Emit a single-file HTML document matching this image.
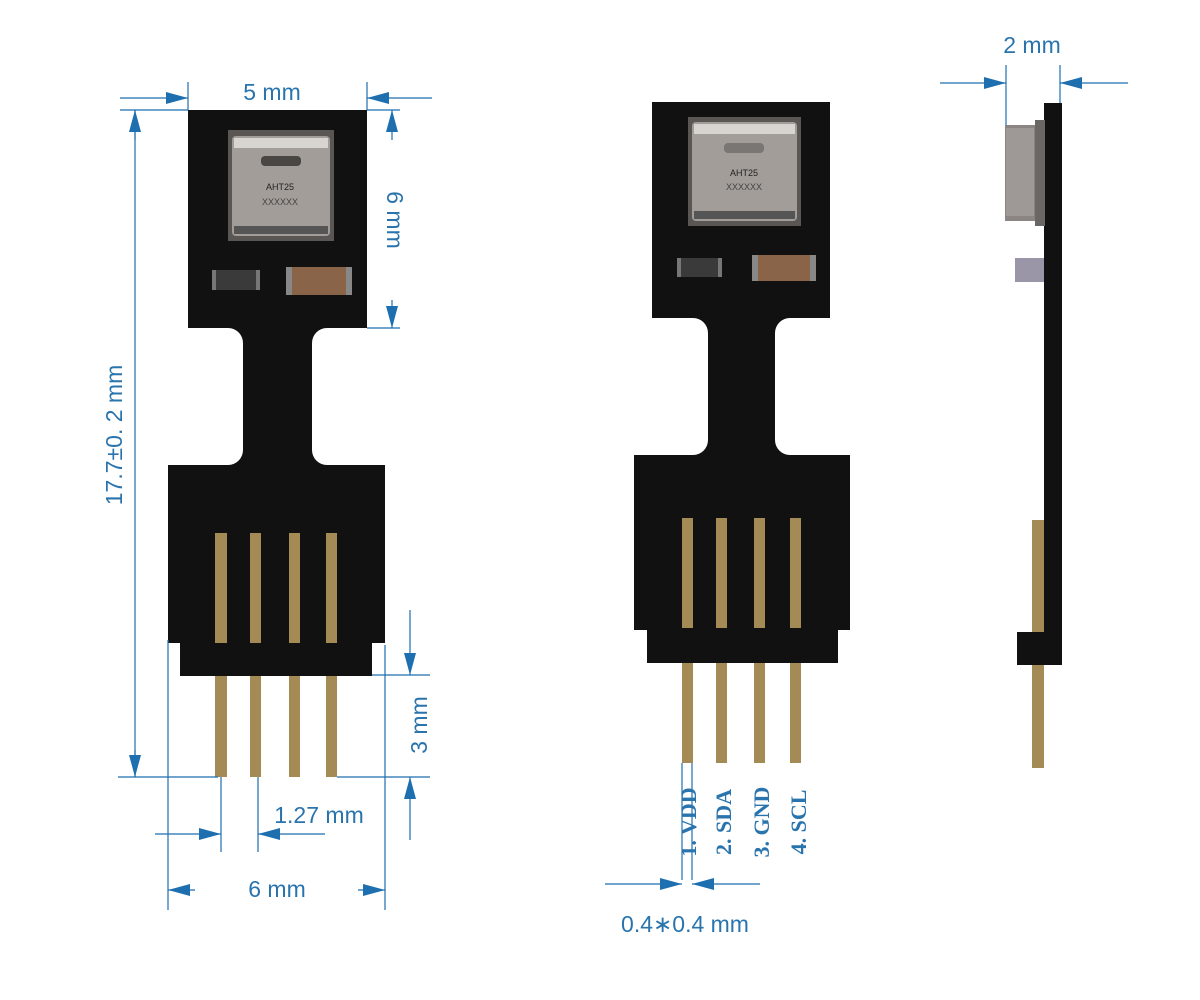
<!DOCTYPE html>
<html><head><meta charset="utf-8"><style>html,body{margin:0;padding:0;background:#fff}svg{display:block}</style></head>
<body>
<svg width="1200" height="1000" viewBox="0 0 1200 1000" xmlns="http://www.w3.org/2000/svg">
<defs>
<marker id="b" markerWidth="22" markerHeight="12" refX="22" refY="6" orient="auto" markerUnits="userSpaceOnUse"><path d="M0,0 L22,6 L0,12 Z" fill="#1e6fb0"/></marker>
</defs>
<g fill="#111">
<!-- left board -->
<rect x="188" y="110" width="179" height="218"/>
<rect x="243" y="320" width="69" height="150"/>
<rect x="168" y="465" width="217" height="178"/>
<rect x="180" y="640" width="192" height="36"/>
<path d="M243,343 L243,328 L228,328 A15,15 0 0 1 243,343 Z"/>
<path d="M243,450 L243,465 L228,465 A15,15 0 0 0 243,450 Z"/>
<path d="M312,343 L312,328 L327,328 A15,15 0 0 0 312,343 Z"/>
<path d="M312,450 L312,465 L327,465 A15,15 0 0 1 312,450 Z"/>
<!-- middle board -->
<rect x="652" y="102" width="178" height="216"/>
<rect x="708" y="310" width="67" height="150"/>
<rect x="634" y="455" width="216" height="175"/>
<rect x="647" y="626" width="191" height="37"/>
<path d="M708,333 L708,318 L693,318 A15,15 0 0 1 708,333 Z"/>
<path d="M708,440 L708,455 L693,455 A15,15 0 0 0 708,440 Z"/>
<path d="M775,333 L775,318 L790,318 A15,15 0 0 0 775,333 Z"/>
<path d="M775,440 L775,455 L790,455 A15,15 0 0 1 775,440 Z"/>
<!-- side -->
<rect x="1044" y="103" width="18" height="537"/>
<rect x="1017" y="632" width="45" height="33"/>
</g>
<g fill="#a48a55">
<rect x="215" y="533" width="12" height="110"/><rect x="250" y="533" width="11" height="110"/><rect x="289" y="533" width="11" height="110"/><rect x="326" y="533" width="11" height="110"/>
<rect x="215" y="676" width="12" height="101"/><rect x="250" y="676" width="11" height="101"/><rect x="289" y="676" width="11" height="101"/><rect x="326" y="676" width="11" height="101"/>
<rect x="682" y="518" width="11" height="110"/><rect x="716" y="518" width="11" height="110"/><rect x="754" y="518" width="11" height="110"/><rect x="790" y="518" width="11" height="110"/>
<rect x="682" y="663" width="11" height="100"/><rect x="716" y="663" width="11" height="100"/><rect x="754" y="663" width="11" height="100"/><rect x="790" y="663" width="11" height="100"/>
<rect x="1032" y="520" width="12" height="112"/><rect x="1032" y="665" width="12" height="103"/>
</g>
<!-- chips -->
<rect x="228" y="130" width="106" height="111" fill="#5a5654"/>
<rect x="232" y="136" width="98" height="100" rx="4" fill="#a29d99"/>
<rect x="234" y="138" width="94" height="10" fill="#d8d4d0"/>
<rect x="234" y="226" width="94" height="8" fill="#555"/>
<rect x="261" y="156" width="40" height="10" rx="4" fill="#4a4644"/>
<text x="280" y="190" font-family="Liberation Sans,sans-serif" font-size="9" text-anchor="middle" fill="#222">AHT25</text>
<text x="280" y="205" font-family="Liberation Sans,sans-serif" font-size="9" text-anchor="middle" fill="#444">XXXXXX</text>
<rect x="212" y="270" width="48" height="20" fill="#777"/><rect x="216" y="270" width="40" height="20" fill="#3a3a3a"/>
<rect x="286" y="267" width="66" height="28" fill="#888"/><rect x="292" y="267" width="54" height="28" fill="#8a6448"/>

<rect x="688" y="117" width="113" height="109" fill="#5a5654"/>
<rect x="692" y="122" width="105" height="99" rx="4" fill="#a29d99"/>
<rect x="694" y="124" width="101" height="10" fill="#d8d4d0"/>
<rect x="694" y="211" width="101" height="8" fill="#555"/>
<rect x="724" y="143" width="40" height="10" rx="4" fill="#7a7674"/>
<text x="744" y="176" font-family="Liberation Sans,sans-serif" font-size="9" text-anchor="middle" fill="#222">AHT25</text>
<text x="744" y="190" font-family="Liberation Sans,sans-serif" font-size="9" text-anchor="middle" fill="#444">XXXXXX</text>
<rect x="677" y="258" width="45" height="19" fill="#777"/><rect x="681" y="258" width="37" height="19" fill="#3a3a3a"/>
<rect x="752" y="255" width="64" height="26" fill="#888"/><rect x="758" y="255" width="52" height="26" fill="#8a6448"/>

<rect x="1005" y="125" width="40" height="96" fill="#8a8583"/>
<rect x="1006" y="128" width="28" height="88" fill="#9e9996"/>
<rect x="1035" y="120" width="10" height="106" fill="#6a6664"/>
<rect x="1015" y="258" width="29" height="24" fill="#9a96a8"/>

<!-- dimension lines -->
<g stroke="#1e6fb0" stroke-width="1.2" fill="none">
<line x1="120" y1="110" x2="188" y2="110"/><line x1="118" y1="777" x2="218" y2="777"/>
<line x1="135" y1="110" x2="135" y2="777"/>
<line x1="135" y1="140" x2="135" y2="110" marker-end="url(#b)"/>
<line x1="135" y1="750" x2="135" y2="777" marker-end="url(#b)"/>
<line x1="188" y1="82" x2="188" y2="110"/><line x1="367" y1="82" x2="367" y2="110"/>
<line x1="120" y1="98" x2="188" y2="98" marker-end="url(#b)"/><line x1="432" y1="98" x2="367" y2="98" marker-end="url(#b)"/>
<line x1="367" y1="110" x2="400" y2="110"/><line x1="367" y1="328" x2="400" y2="328"/>
<line x1="392" y1="140" x2="392" y2="110" marker-end="url(#b)"/><line x1="392" y1="300" x2="392" y2="328" marker-end="url(#b)"/>
<line x1="372" y1="675" x2="430" y2="675"/><line x1="337" y1="777" x2="430" y2="777"/>
<line x1="410" y1="610" x2="410" y2="675" marker-end="url(#b)"/><line x1="410" y1="840" x2="410" y2="777" marker-end="url(#b)"/>
<line x1="385" y1="645" x2="385" y2="910"/><line x1="168" y1="640" x2="168" y2="910"/>
<line x1="195" y1="890" x2="168" y2="890" marker-end="url(#b)"/><line x1="358" y1="890" x2="385" y2="890" marker-end="url(#b)"/>
<line x1="221" y1="777" x2="221" y2="852"/><line x1="258" y1="777" x2="258" y2="852"/>
<line x1="155" y1="834" x2="221" y2="834" marker-end="url(#b)"/><line x1="325" y1="834" x2="258" y2="834" marker-end="url(#b)"/>
<line x1="682" y1="763" x2="682" y2="880"/><line x1="692" y1="763" x2="692" y2="880"/>
<line x1="605" y1="884" x2="682" y2="884" marker-end="url(#b)"/><line x1="760" y1="884" x2="692" y2="884" marker-end="url(#b)"/>
<line x1="1006" y1="65" x2="1006" y2="125"/><line x1="1060" y1="65" x2="1060" y2="103"/>
<line x1="940" y1="83" x2="1006" y2="83" marker-end="url(#b)"/><line x1="1128" y1="83" x2="1060" y2="83" marker-end="url(#b)"/>
</g>
<g font-family="Liberation Sans,sans-serif" font-size="23" fill="#2a74ad">
<text x="272" y="100" text-anchor="middle">5 mm</text>
<text x="277" y="897" text-anchor="middle">6 mm</text>
<text x="319" y="823" text-anchor="middle">1.27 mm</text>
<text x="1032" y="53" text-anchor="middle">2 mm</text>
<text x="685" y="932" text-anchor="middle">0.4∗0.4 mm</text>
<text transform="translate(122,435) rotate(-90)" text-anchor="middle">17.7±0. 2 mm</text>
<text transform="translate(387,220) rotate(90)" text-anchor="middle">6 mm</text>
<text transform="translate(427,725) rotate(-90)" text-anchor="middle">3 mm</text>
</g>
<g font-family="Liberation Serif,serif" font-size="22" font-weight="bold" fill="#2a74ad">
<text transform="translate(696,822) rotate(-90)" text-anchor="middle">1. VDD</text>
<text transform="translate(731,822) rotate(-90)" text-anchor="middle">2. SDA</text>
<text transform="translate(769,822) rotate(-90)" text-anchor="middle">3. GND</text>
<text transform="translate(806,822) rotate(-90)" text-anchor="middle">4. SCL</text>
</g>
</svg>
</body></html>
